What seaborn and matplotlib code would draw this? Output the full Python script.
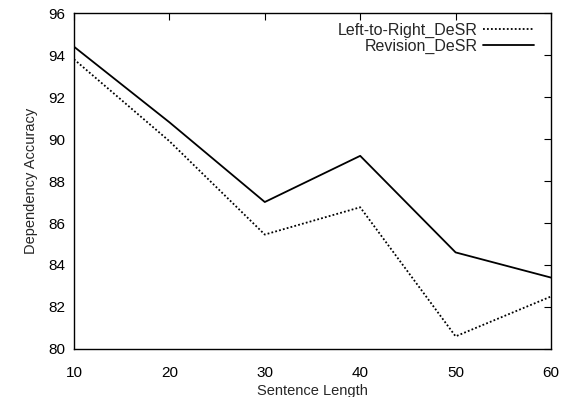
import numpy as np
import matplotlib
matplotlib.use("Agg")
import matplotlib.pyplot as plt
import pandas as pd
import seaborn as sns

sentence_length = [10, 20, 30, 40, 50, 60]
left_to_right = [93.8, 89.9, 85.45, 86.75, 80.6, 82.5]
revision = [94.4, 90.8, 87.0, 89.2, 84.6, 83.4]

df = pd.DataFrame({
    "len": sentence_length * 2,
    "acc": left_to_right + revision,
    "model": ["Left-to-Right_DeSR"] * 6 + ["Revision_DeSR"] * 6,
})

sns.set_style("white")
plt.rcParams["font.family"] = ["Liberation Sans", "DejaVu Sans"]

fig = plt.figure(figsize=(5.63, 3.97), dpi=100)
ax = fig.add_axes([0.1314, 0.121, 0.8473, 0.846])

sns.lineplot(data=df, x="len", y="acc", hue="model", style="model",
             palette=["black", "black"],
             dashes={"Left-to-Right_DeSR": (1, 1.2), "Revision_DeSR": ""},
             linewidth=1.3, ax=ax)

ax.set_xlim(10, 60)
ax.set_ylim(80, 96)
ax.set_xticks(sentence_length)
ax.set_yticks(np.arange(80, 97, 2))
ax.tick_params(direction="in", length=5, width=0.8, top=True, right=True,
               labelsize=11, colors="black", pad=6)
ax.tick_params(axis="x", pad=12)
for s in ax.spines.values():
    s.set_color("black")
    s.set_linewidth(1.0)
ax.set_xlabel("Sentence Length", fontsize=10.5, labelpad=3)
ax.set_ylabel("Dependency Accuracy", fontsize=10.5, labelpad=8)

leg = ax.legend(loc="upper right", bbox_to_anchor=(0.987, 1.005), frameon=False,
                markerfirst=False, fontsize=11.5, handlelength=3.2,
                borderaxespad=0.3, labelspacing=0.05, handletextpad=0.3, title=None)

fig.savefig("out.png", dpi=100)
